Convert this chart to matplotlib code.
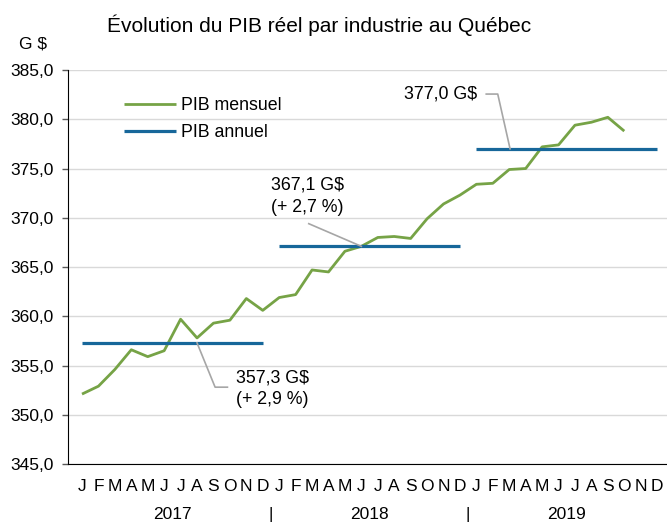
import matplotlib.pyplot as plt

plt.rcParams['font.family'] = ['Liberation Sans', 'DejaVu Sans']

# --- données ---
mois = ['J', 'F', 'M', 'A', 'M', 'J', 'J', 'A', 'S', 'O', 'N', 'D'] * 3
annees = ['2017', '2018', '2019']
pib_mensuel = [352.1, 352.9, 354.6, 356.6, 355.9, 356.5, 359.7, 357.8, 359.3, 359.6, 361.8, 360.6,
               361.9, 362.2, 364.7, 364.5, 366.6, 367.1, 368.0, 368.1, 367.9, 369.9, 371.4, 372.3,
               373.4, 373.5, 374.9, 375.0, 377.2, 377.4, 379.4, 379.7, 380.2, 378.8]
pib_annuel = [357.3, 367.1, 377.0]
notes = ['357,3 G$\n(+ 2,9 %)', '367,1 G$\n(+ 2,7 %)', '377,0 G$']

vert = '#76A346'
bleu = '#17679A'
fs = 12.8

fig = plt.figure(figsize=(6.67, 5.23), dpi=100)
ax = fig.add_axes([0.102, 0.1128, 0.898, 0.7533])

x = list(range(len(pib_mensuel)))
ax.plot(x, pib_mensuel, color=vert, lw=2.0, label='PIB mensuel', solid_capstyle='butt')
for k, v in enumerate(pib_annuel):
    ax.plot([12 * k, 12 * k + 11], [v, v], color=bleu, lw=2.3,
            label='PIB annuel' if k == 0 else None, solid_capstyle='butt')

ax.set_xlim(-0.85, 35.6)
ax.set_ylim(345, 385)
ax.set_yticks([345 + 5 * i for i in range(9)])
ax.set_yticklabels([f'{345 + 5 * i:.1f}'.replace('.', ',') for i in range(9)], fontsize=12.5)
ax.set_xticks(range(36))
ax.set_xticklabels(mois, fontsize=12.5)
ax.tick_params(axis='x', length=0, pad=10.5)
ax.tick_params(axis='y', length=4.5, width=1, color='#595959', pad=6)
ax.grid(axis='y', color='#D9D9D9', lw=1)
ax.set_axisbelow(True)
for s in ['top', 'right']:
    ax.spines[s].set_visible(False)
ax.spines['left'].set_color('black')
ax.spines['bottom'].set_color('black')

# années et séparateurs
trans = ax.get_xaxis_transform()
for k, a in enumerate(annees):
    ax.text(12 * k + 5.5, -0.129, a, transform=trans, ha='center', va='center', fontsize=12.5)
for k in [1, 2]:
    ax.text(12 * k - 0.5, -0.129, '|', transform=trans, ha='center', va='center', fontsize=12.5)

# annotations
gris = '#A6A6A6'
ax.plot([7, 8.1, 8.85], [357.3, 352.8, 352.8], color=gris, lw=1.2)
ax.text(9.35, 352.65, notes[0], ha='left', va='center', fontsize=fs, linespacing=1.4)
ax.plot([17, 13.8], [367.1, 369.4], color=gris, lw=1.2)
ax.text(11.5, 372.15, notes[1], ha='left', va='center', fontsize=fs, linespacing=1.4)
ax.plot([26.05, 25.3, 24.6], [377.0, 382.56, 382.56], color=gris, lw=1.2)
ax.text(24.05, 382.56, notes[2], ha='right', va='center', fontsize=fs)

leg = ax.legend(loc='upper left', bbox_to_anchor=(0.0935, 0.932), frameon=False, fontsize=fs,
                handlelength=2.9, handletextpad=0.3, labelspacing=0.6,
                borderpad=0, borderaxespad=0)

fig.text(0.16, 0.952, 'Évolution du PIB réel par industrie au Québec', fontsize=15, va='center')
fig.text(0.05, 0.916, 'G $', fontsize=12.5, ha='center', va='center')

fig.savefig('out.png', dpi=100)
